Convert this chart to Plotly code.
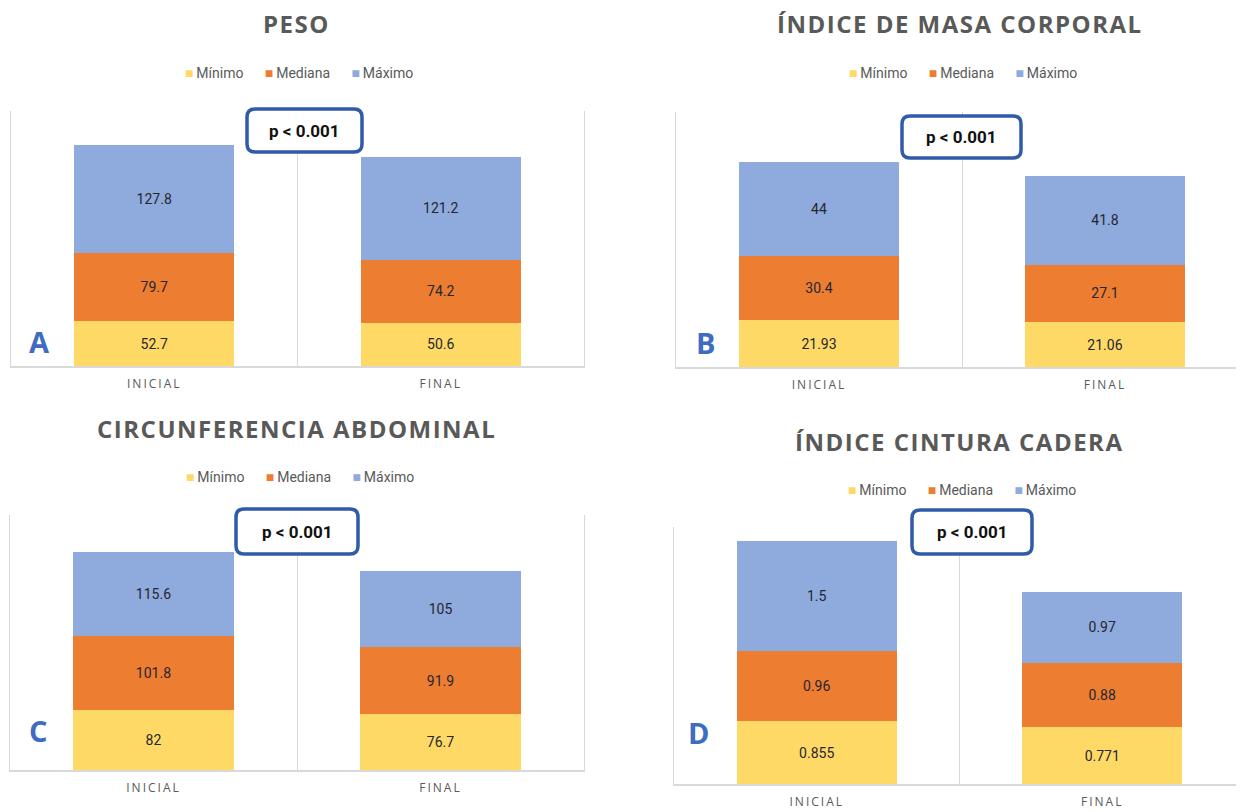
import plotly.graph_objects as go

# ---------------- data ----------------
categories = ["INICIAL", "FINAL"]
series_names = ["Mínimo", "Mediana", "Máximo"]
series_colors = ["#FFD966", "#ED7D31", "#8FAADC"]

peso_min = [52.7, 50.6]
peso_med = [79.7, 74.2]
peso_max = [127.8, 121.2]

imc_min = [21.93, 21.06]
imc_med = [30.4, 27.1]
imc_max = [44, 41.8]

ca_min = [82, 76.7]
ca_med = [101.8, 91.9]
ca_max = [115.6, 105]

icc_min = [0.855, 0.771]
icc_med = [0.96, 0.88]
icc_max = [1.5, 0.97]

titles = ["PESO", "ÍNDICE DE MASA CORPORAL", "CIRCUNFERENCIA ABDOMINAL", "ÍNDICE CINTURA CADERA"]
letters = ["A", "B", "C", "D"]
p_text = "p < 0.001"
y_max = [300, 120, 350, 3.5]

panels = [
    [peso_min, peso_med, peso_max],
    [imc_min, imc_med, imc_max],
    [ca_min, ca_med, ca_max],
    [icc_min, icc_med, icc_max],
]

# ---------------- layout geometry (page pixels) ----------------
W, H = 1244, 812
OFF = 8  # page body margin around the figure
def fx(x):
    return (x - OFF) / W
def fy(y):
    return 1 - (y - OFF) / H

# plot areas: left, right, top, bottom
areas = [
    (11, 584, 111, 366),
    (676, 1248, 112, 367),
    (10, 584, 515, 770),
    (674, 1245, 527, 784),
]
title_pos = [(296, 24), (960, 24), (296, 428), (959, 442)]
legend_pos = [(299, 73), (963, 73), (300, 477), (962, 490)]
letter_pos = [(39, 341), (705, 342), (38, 730), (699, 732)]
pbox = [(247, 362, 109, 152), (902, 1021, 116, 158), (236, 358, 509, 554), (912, 1032, 510, 554)]

fig = go.Figure()

for i, vals in enumerate(panels):
    ax = "" if i == 0 else str(i + 1)
    for name, color, v in zip(series_names, series_colors, vals):
        fig.add_trace(go.Bar(
            x=categories, y=v, name=name,
            marker=dict(color=color, line=dict(width=0)),
            text=[str(t) for t in v],
            textposition="inside", insidetextanchor="middle",
            textangle=0, constraintext="none",
            textfont=dict(family="Roboto", size=14, color="#262630"),
            xaxis="x" + ax, yaxis="y" + ax, showlegend=False,
            hoverinfo="skip",
        ))

layout = dict(
    width=W, height=H, margin=dict(l=0, r=0, t=0, b=0),
    paper_bgcolor="white", plot_bgcolor="white",
    barmode="stack", bargap=0.44,
    showlegend=False,
)

tick_text = [f"<span style='letter-spacing:2px'>{c}</span>" for c in categories]

annotations = []
shapes = []
for i, (l, r, t, b) in enumerate(areas):
    ax = "" if i == 0 else str(i + 1)
    layout["xaxis" + ax] = dict(
        domain=[fx(l), min(fx(r), 1.0)], anchor="y" + ax, type="category",
        range=[-0.5, 1.5], tickson="boundaries",
        tickvals=categories, ticktext=tick_text,
        showgrid=True, gridcolor="#D9D9D9", gridwidth=1,
        showline=True, linecolor="#D9D9D9", linewidth=1.5,
        ticks="", ticklabelstandoff=6,
        tickfont=dict(family="Open Sans", size=12, color="#595959"),
        fixedrange=True,
    )
    layout["yaxis" + ax] = dict(
        domain=[fy(b), fy(t)], anchor="x" + ax,
        range=[0, y_max[i]], showgrid=False, zeroline=False,
        showticklabels=False, showline=True, mirror=True,
        linecolor="#D9D9D9", linewidth=1, fixedrange=True,
    )

    # title
    tx, ty = title_pos[i]
    annotations.append(dict(
        text=f"<span style='letter-spacing:1.5px'>{titles[i]}</span>",
        x=fx(tx), y=fy(ty), xref="paper", yref="paper",
        showarrow=False, xanchor="center", yanchor="middle",
        font=dict(family="Open Sans", size=24, color="#595959", weight="bold"),
    ))
    # legend
    lx, ly = legend_pos[i]
    parts = []
    for name, color in zip(series_names, series_colors):
        parts.append(f"<span style='color:{color};font-size:14px'>■</span>\u2009{name}")
    annotations.append(dict(
        text="\u2003\u2002".join(parts), x=fx(lx), y=fy(ly), xref="paper", yref="paper",
        showarrow=False, xanchor="center", yanchor="middle",
        font=dict(family="Roboto", size=14, color="#595959"),
    ))
    # panel letter
    px_, py_ = letter_pos[i]
    annotations.append(dict(
        text=letters[i], x=fx(px_), y=fy(py_), xref="paper", yref="paper",
        showarrow=False, xanchor="center", yanchor="middle",
        font=dict(family="Open Sans", size=29, color="#3F6CC0", weight="bold"),
    ))
    # p-value box (rounded)
    x0, x1, y0, y1 = pbox[i]
    rr = 8
    pts = (
        f"M {fx(x0 + rr)},{fy(y0)} L {fx(x1 - rr)},{fy(y0)} "
        f"Q {fx(x1)},{fy(y0)} {fx(x1)},{fy(y0 + rr)} "
        f"L {fx(x1)},{fy(y1 - rr)} Q {fx(x1)},{fy(y1)} {fx(x1 - rr)},{fy(y1)} "
        f"L {fx(x0 + rr)},{fy(y1)} Q {fx(x0)},{fy(y1)} {fx(x0)},{fy(y1 - rr)} "
        f"L {fx(x0)},{fy(y0 + rr)} Q {fx(x0)},{fy(y0)} {fx(x0 + rr)},{fy(y0)} Z"
    )
    shapes.append(dict(
        type="path", path=pts, xref="paper", yref="paper",
        line=dict(color="#2F5BA8", width=3.5), fillcolor="white",
        layer="above",
    ))
    annotations.append(dict(
        text=p_text, x=fx((x0 + x1) / 2), y=fy((y0 + y1) / 2), xref="paper", yref="paper",
        showarrow=False, xanchor="center", yanchor="middle",
        font=dict(family="Roboto", size=17, color="#111111", weight="bold"),
    ))

layout["annotations"] = annotations
layout["shapes"] = shapes
fig.update_layout(**layout)

fig.write_html("out.html")
